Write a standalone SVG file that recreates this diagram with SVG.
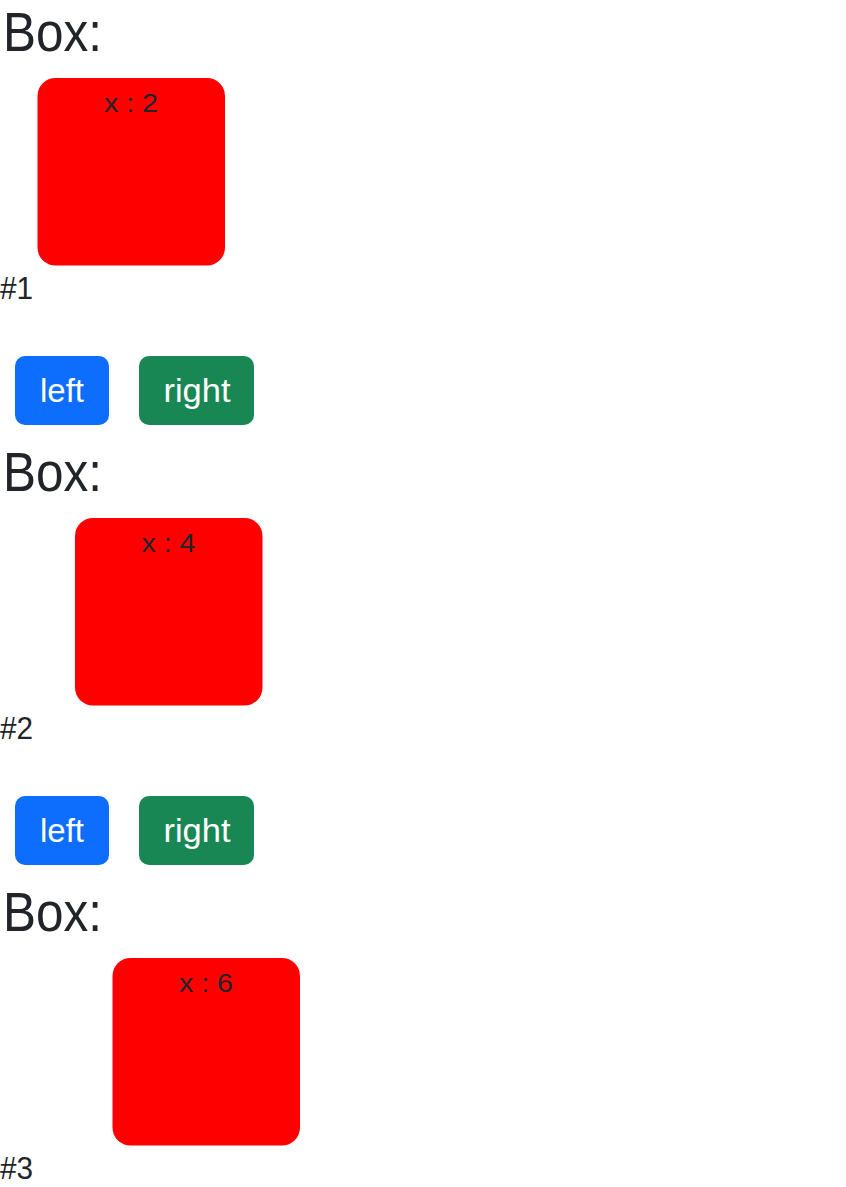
<svg xmlns="http://www.w3.org/2000/svg" width="846" height="1187" viewBox="0 0 846 1187">
<style>
text{font-family:"Liberation Sans",Arial,sans-serif;fill:#212529}
.h{font-size:55px}
.lbl{font-size:26.5px;text-anchor:middle}
.num{font-size:31px}
.btxt{font-size:34px;fill:#fff;text-anchor:middle}
.box{fill:#ff0000}
.blue{fill:#0d6efd}
.green{fill:#198754}
</style>
<rect width="846" height="1187" fill="#fff"/>
<g id="section1">
<text class="h" x="3" y="51" textLength="99" lengthAdjust="spacingAndGlyphs">Box:</text>
<g id="box1"><rect class="box" x="37.5" y="78" width="187.5" height="187.5" rx="18"/><text class="lbl" x="131" y="111.5" textLength="54" lengthAdjust="spacingAndGlyphs">x : 2</text></g>
<text class="num" x="0" y="299" textLength="33" lengthAdjust="spacingAndGlyphs">#1</text>
</g>
<g id="buttons1">
<g id="left1"><rect class="blue" x="15" y="356" width="94" height="69" rx="10"/><text class="btxt" x="62" y="401.5" textLength="44" lengthAdjust="spacingAndGlyphs">left</text></g>
<g id="right1"><rect class="green" x="139" y="356" width="115" height="69" rx="10"/><text class="btxt" x="197" y="401.5" textLength="67" lengthAdjust="spacingAndGlyphs">right</text></g>
</g>
<g id="section2">
<text class="h" x="3" y="491" textLength="99" lengthAdjust="spacingAndGlyphs">Box:</text>
<g id="box2"><rect class="box" x="75" y="518" width="187.5" height="187.5" rx="18"/><text class="lbl" x="168.5" y="551.5" textLength="54" lengthAdjust="spacingAndGlyphs">x : 4</text></g>
<text class="num" x="0" y="739" textLength="33" lengthAdjust="spacingAndGlyphs">#2</text>
</g>
<g id="buttons2">
<g id="left2"><rect class="blue" x="15" y="796" width="94" height="69" rx="10"/><text class="btxt" x="62" y="841.5" textLength="44" lengthAdjust="spacingAndGlyphs">left</text></g>
<g id="right2"><rect class="green" x="139" y="796" width="115" height="69" rx="10"/><text class="btxt" x="197" y="841.5" textLength="67" lengthAdjust="spacingAndGlyphs">right</text></g>
</g>
<g id="section3">
<text class="h" x="3" y="931" textLength="99" lengthAdjust="spacingAndGlyphs">Box:</text>
<g id="box3"><rect class="box" x="112.5" y="958" width="187.5" height="187.5" rx="18"/><text class="lbl" x="206" y="991.5" textLength="54" lengthAdjust="spacingAndGlyphs">x : 6</text></g>
<text class="num" x="0" y="1179" textLength="33" lengthAdjust="spacingAndGlyphs">#3</text>
</g>
<g id="connectors"/>
</svg>
